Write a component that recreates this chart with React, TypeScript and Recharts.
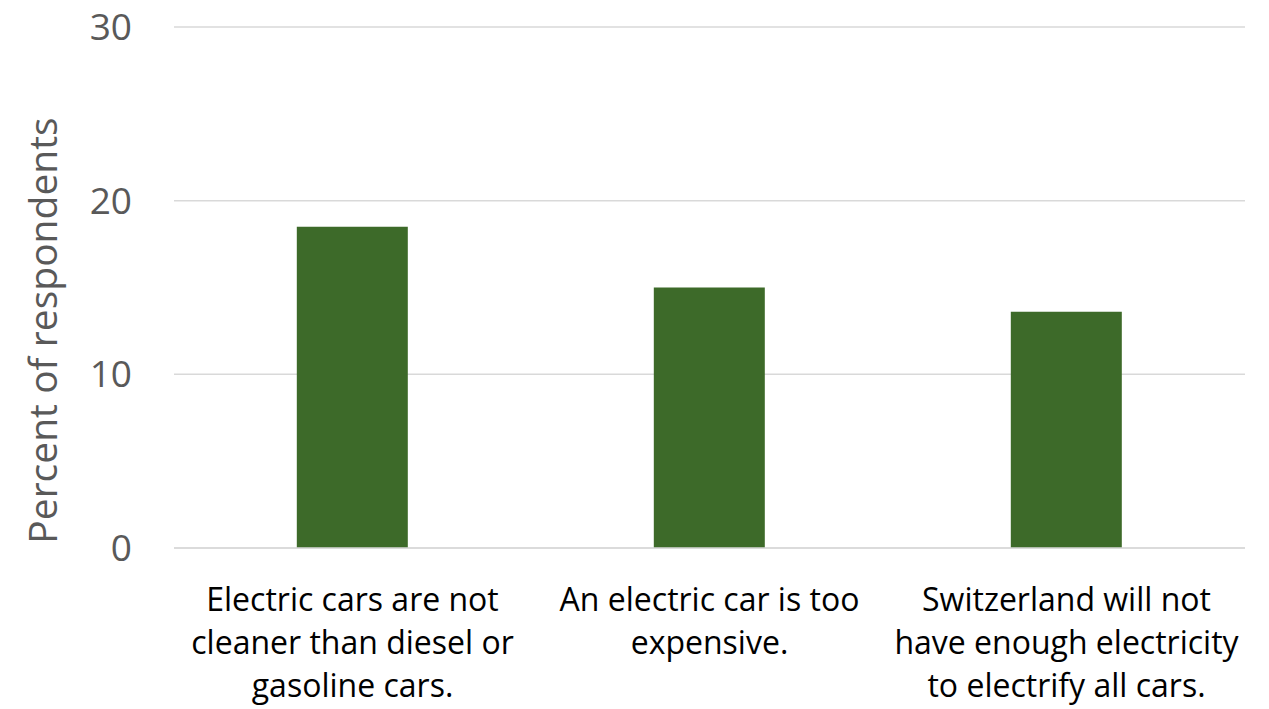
import { Bar, BarChart, CartesianGrid, Label, XAxis, YAxis } from "recharts";

const categories = [
  "Electric cars are not\ncleaner than diesel or\ngasoline cars.",
  "An electric car is too\nexpensive.",
  "Switzerland will not\nhave enough electricity\nto electrify all cars.",
];
const percentValues = [18.5, 15.0, 13.6];
const yTicks = [0, 10, 20, 30];

const data = categories.map((name, i) => ({ name, value: percentValues[i] }));

const FONT = "'Open Sans', 'Noto Sans', sans-serif";

function CategoryTick(props: any) {
  const { x, y, payload } = props;
  const lines = String(payload.value).split("\n");
  return (
    <text
      x={x}
      y={y}
      textAnchor="middle"
      fill="#000000"
      fontFamily={FONT}
      fontSize={32}
    >
      {lines.map((line, i) => (
        <tspan key={i} x={x} dy={i === 0 ? 55 : 43}>
          {line}
        </tspan>
      ))}
    </text>
  );
}

function AxisTitle(props: any) {
  const { viewBox } = props;
  const cx = 41;
  const cy = viewBox.y + viewBox.height / 2 + 43;
  return (
    <text
      x={cx}
      y={cy}
      transform={`rotate(-90, ${cx}, ${cy})`}
      textAnchor="middle"
      dominantBaseline="central"
      fill="#595959"
      fontFamily={FONT}
      fontSize={39}
    >
      Percent of respondents
    </text>
  );
}

export default function App() {
  return (
    <div style={{ position: "absolute", left: 0, top: 0, background: "#ffffff" }}>
      <BarChart
        width={1269}
        height={709}
        data={data}
        margin={{ top: 27, right: 24, left: 0, bottom: 0 }}
        barCategoryGap="34.4%"
      >
        <CartesianGrid vertical={false} stroke="#d9d9d9" strokeWidth={1.5} />
        <XAxis
          dataKey="name"
          height={161}
          axisLine={{ stroke: "#d9d9d9", strokeWidth: 1.5 }}
          tickLine={false}
          interval={0}
          tick={<CategoryTick />}
        />
        <YAxis
          width={174}
          domain={[0, 30]}
          ticks={yTicks}
          axisLine={false}
          tickLine={false}
          tickSize={0}
          tickMargin={42}
          tick={{ fill: "#595959", fontSize: 37, fontFamily: FONT }}
        >
          <Label content={<AxisTitle />} />
        </YAxis>
        <Bar dataKey="value" fill="#3d6a29" isAnimationActive={false} />
      </BarChart>
    </div>
  );
}
